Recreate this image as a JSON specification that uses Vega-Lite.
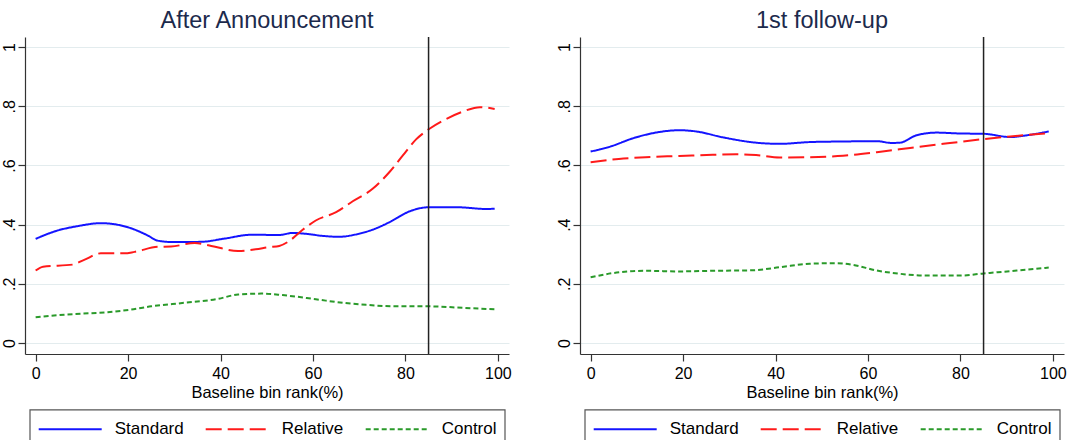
{
  "$schema": "https://vega.github.io/schema/vega-lite/v6.json",
  "background": "white",
  "padding": {"left": 1, "top": 8, "right": 0, "bottom": 0},
  "datasets": {
    "announce": [
      {"s":"Standard","x":0,"y":0.352},{"s":"Standard","x":4.7,"y":0.380},{"s":"Standard","x":9.1,"y":0.395},{"s":"Standard","x":14.1,"y":0.405},{"s":"Standard","x":20.6,"y":0.388},{"s":"Standard","x":24.3,"y":0.363},{"s":"Standard","x":26.4,"y":0.346},{"s":"Standard","x":30.0,"y":0.341},{"s":"Standard","x":35.8,"y":0.342},{"s":"Standard","x":40.9,"y":0.353},{"s":"Standard","x":46.7,"y":0.366},{"s":"Standard","x":52.7,"y":0.365},{"s":"Standard","x":55.6,"y":0.372},{"s":"Standard","x":58.5,"y":0.369},{"s":"Standard","x":62.1,"y":0.362},{"s":"Standard","x":65.7,"y":0.359},{"s":"Standard","x":69.3,"y":0.367},{"s":"Standard","x":72.9,"y":0.383},{"s":"Standard","x":76.5,"y":0.408},{"s":"Standard","x":80.9,"y":0.445},{"s":"Standard","x":85.2,"y":0.459},{"s":"Standard","x":91.0,"y":0.459},{"s":"Standard","x":97.5,"y":0.453},{"s":"Standard","x":99.3,"y":0.454},
      {"s":"Relative","x":0,"y":0.245},{"s":"Relative","x":1.6,"y":0.258},{"s":"Relative","x":8.0,"y":0.265},{"s":"Relative","x":10.5,"y":0.281},{"s":"Relative","x":14.1,"y":0.303},{"s":"Relative","x":19.2,"y":0.303},{"s":"Relative","x":21.4,"y":0.308},{"s":"Relative","x":26.4,"y":0.325},{"s":"Relative","x":29.3,"y":0.326},{"s":"Relative","x":34.4,"y":0.338},{"s":"Relative","x":38.0,"y":0.328},{"s":"Relative","x":43.8,"y":0.311},{"s":"Relative","x":47.6,"y":0.317},{"s":"Relative","x":50.5,"y":0.324},{"s":"Relative","x":52.7,"y":0.328},{"s":"Relative","x":54.8,"y":0.344},{"s":"Relative","x":57.7,"y":0.382},{"s":"Relative","x":60.6,"y":0.414},{"s":"Relative","x":65.0,"y":0.442},{"s":"Relative","x":68.6,"y":0.479},{"s":"Relative","x":72.9,"y":0.521},{"s":"Relative","x":76.5,"y":0.577},{"s":"Relative","x":79.4,"y":0.633},{"s":"Relative","x":82.3,"y":0.688},{"s":"Relative","x":85.2,"y":0.724},{"s":"Relative","x":88.8,"y":0.757},{"s":"Relative","x":92.4,"y":0.782},{"s":"Relative","x":96.1,"y":0.797},{"s":"Relative","x":99.3,"y":0.791},
      {"s":"Control","x":0,"y":0.087},{"s":"Control","x":4.7,"y":0.094},{"s":"Control","x":9.8,"y":0.099},{"s":"Control","x":15.6,"y":0.104},{"s":"Control","x":20.6,"y":0.113},{"s":"Control","x":25.0,"y":0.124},{"s":"Control","x":32.2,"y":0.136},{"s":"Control","x":39.4,"y":0.149},{"s":"Control","x":43.8,"y":0.164},{"s":"Control","x":49.0,"y":0.167},{"s":"Control","x":53.4,"y":0.162},{"s":"Control","x":60.6,"y":0.148},{"s":"Control","x":66.4,"y":0.136},{"s":"Control","x":71.5,"y":0.129},{"s":"Control","x":78.0,"y":0.124},{"s":"Control","x":85.2,"y":0.124},{"s":"Control","x":92.4,"y":0.119},{"s":"Control","x":99.3,"y":0.114}
    ],
    "followup": [
      {"s":"Standard","x":0,"y":0.647},{"s":"Standard","x":4.3,"y":0.664},{"s":"Standard","x":9.0,"y":0.691},{"s":"Standard","x":14.1,"y":0.711},{"s":"Standard","x":19.2,"y":0.719},{"s":"Standard","x":22.8,"y":0.715},{"s":"Standard","x":28.6,"y":0.695},{"s":"Standard","x":35.8,"y":0.677},{"s":"Standard","x":40.9,"y":0.673},{"s":"Standard","x":47.4,"y":0.679},{"s":"Standard","x":54.6,"y":0.681},{"s":"Standard","x":61.9,"y":0.682},{"s":"Standard","x":65.1,"y":0.676},{"s":"Standard","x":66.9,"y":0.677},{"s":"Standard","x":70.5,"y":0.702},{"s":"Standard","x":74.9,"y":0.711},{"s":"Standard","x":79.9,"y":0.708},{"s":"Standard","x":85.0,"y":0.707},{"s":"Standard","x":90.8,"y":0.696},{"s":"Standard","x":94.4,"y":0.702},{"s":"Standard","x":99.1,"y":0.715},
      {"s":"Relative","x":0,"y":0.611},{"s":"Relative","x":6.1,"y":0.622},{"s":"Relative","x":11.9,"y":0.628},{"s":"Relative","x":19.2,"y":0.632},{"s":"Relative","x":26.4,"y":0.636},{"s":"Relative","x":31.5,"y":0.638},{"s":"Relative","x":35.8,"y":0.635},{"s":"Relative","x":40.9,"y":0.627},{"s":"Relative","x":47.4,"y":0.628},{"s":"Relative","x":54.6,"y":0.633},{"s":"Relative","x":61.9,"y":0.645},{"s":"Relative","x":69.1,"y":0.659},{"s":"Relative","x":76.3,"y":0.673},{"s":"Relative","x":85.0,"y":0.689},{"s":"Relative","x":90.8,"y":0.698},{"s":"Relative","x":99.1,"y":0.709},
      {"s":"Control","x":0,"y":0.222},{"s":"Control","x":4.7,"y":0.236},{"s":"Control","x":11.9,"y":0.244},{"s":"Control","x":19.2,"y":0.242},{"s":"Control","x":26.4,"y":0.244},{"s":"Control","x":35.1,"y":0.246},{"s":"Control","x":40.9,"y":0.256},{"s":"Control","x":47.4,"y":0.268},{"s":"Control","x":53.2,"y":0.270},{"s":"Control","x":56.8,"y":0.264},{"s":"Control","x":61.9,"y":0.245},{"s":"Control","x":66.9,"y":0.234},{"s":"Control","x":72.7,"y":0.228},{"s":"Control","x":79.9,"y":0.228},{"s":"Control","x":85.0,"y":0.235},{"s":"Control","x":92.2,"y":0.245},{"s":"Control","x":99.1,"y":0.255}
    ],
    "cut": [{"v": 85}]
  },
  "hconcat": [
    {
      "title": {"text": "After Announcement"},
      "width": 484,
      "height": 317,
      "layer": [
        {
          "data": {"name": "announce"},
          "mark": {"type": "line", "strokeWidth": 2, "interpolate": "monotone"},
          "encoding": {
            "x": {"field": "x", "type": "quantitative", "scale": {"domain": [-2.3, 102.4], "nice": false, "zero": false},
                  "axis": {"values": [0, 20, 40, 60, 80, 100], "title": "Baseline bin rank(%)"}},
            "y": {"field": "y", "type": "quantitative", "scale": {"domain": [-0.037, 1.034], "nice": false, "zero": false},
                  "axis": {"values": [0, 0.2, 0.4, 0.6, 0.8, 1], "title": null,
                           "labelExpr": "datum.value == 0 ? '0' : datum.value == 1 ? '1' : replace(format(datum.value, '.1f'), '0.', '.')"}},
            "color": {"field": "s", "type": "nominal", "title": null,
                      "scale": {"domain": ["Standard", "Relative", "Control"], "range": ["#1414ff", "#ff1a1a", "#2a9a2a"]},
                      "legend": {"orient": "none", "legendX": 4.7, "legendY": 372.5}},
            "strokeDash": {"field": "s", "type": "nominal", "title": null,
                      "scale": {"domain": ["Standard", "Relative", "Control"], "range": [[1, 0], [16, 6], [5, 3]]},
                      "legend": {"orient": "none", "legendX": 4.7, "legendY": 372.5}}
          }
        },
        {
          "data": {"name": "cut"},
          "mark": {"type": "rule", "color": "#222222", "strokeWidth": 1.5},
          "encoding": {"x": {"field": "v", "type": "quantitative"}}
        }
      ]
    },
    {
      "title": {"text": "1st follow-up"},
      "width": 484,
      "height": 317,
      "layer": [
        {
          "data": {"name": "followup"},
          "mark": {"type": "line", "strokeWidth": 2, "interpolate": "monotone"},
          "encoding": {
            "x": {"field": "x", "type": "quantitative", "scale": {"domain": [-2.3, 102.4], "nice": false, "zero": false},
                  "axis": {"values": [0, 20, 40, 60, 80, 100], "title": "Baseline bin rank(%)"}},
            "y": {"field": "y", "type": "quantitative", "scale": {"domain": [-0.037, 1.034], "nice": false, "zero": false},
                  "axis": {"values": [0, 0.2, 0.4, 0.6, 0.8, 1], "title": null,
                           "labelExpr": "datum.value == 0 ? '0' : datum.value == 1 ? '1' : replace(format(datum.value, '.1f'), '0.', '.')"}},
            "color": {"field": "s", "type": "nominal", "title": null,
                      "scale": {"domain": ["Standard", "Relative", "Control"], "range": ["#1414ff", "#ff1a1a", "#2a9a2a"]},
                      "legend": {"orient": "none", "legendX": 4.7, "legendY": 372.5}},
            "strokeDash": {"field": "s", "type": "nominal", "title": null,
                      "scale": {"domain": ["Standard", "Relative", "Control"], "range": [[1, 0], [16, 6], [5, 3]]},
                      "legend": {"orient": "none", "legendX": 4.7, "legendY": 372.5}}
          }
        },
        {
          "data": {"name": "cut"},
          "mark": {"type": "rule", "color": "#222222", "strokeWidth": 1.5},
          "encoding": {"x": {"field": "v", "type": "quantitative"}}
        }
      ]
    }
  ],
  "spacing": 44,
  "resolve": {"legend": {"color": "independent", "strokeDash": "independent"}},
  "config": {
    "font": "Liberation Sans",
    "view": {"stroke": null},
    "title": {"fontSize": 23.5, "fontWeight": "normal", "color": "#1c2a4c", "font": "Liberation Sans", "anchor": "middle", "offset": 4},
    "axis": {
      "domainColor": "#333333", "domainWidth": 1.2,
      "tickColor": "#333333", "tickSize": 7, "tickWidth": 1.2,
      "labelColor": "#000000", "labelFontSize": 16, "labelFont": "Liberation Sans",
      "titleColor": "#000000", "titleFontSize": 16.5, "titleFontWeight": "normal", "titleFont": "Liberation Sans",
      "grid": false
    },
    "axisX": {"labelPadding": 4, "titlePadding": 3, "labelFlush": false},
    "axisY": {"grid": true, "gridColor": "#e3ecee", "gridWidth": 1, "labelAngle": -90, "labelAlign": "center", "labelBaseline": "alphabetic", "labelPadding": 4},
    "legend": {
      "direction": "horizontal", "columns": 3,
      "symbolType": "M-1,0H5", "symbolSize": 441, "symbolStrokeWidth": 2,
      "labelFontSize": 17, "labelFont": "Liberation Sans", "labelColor": "#000000",
      "labelOffset": 54, "columnPadding": 18, "padding": 8,
      "strokeColor": "#555555", "strokeWidth": 1.2
    }
  }
}
